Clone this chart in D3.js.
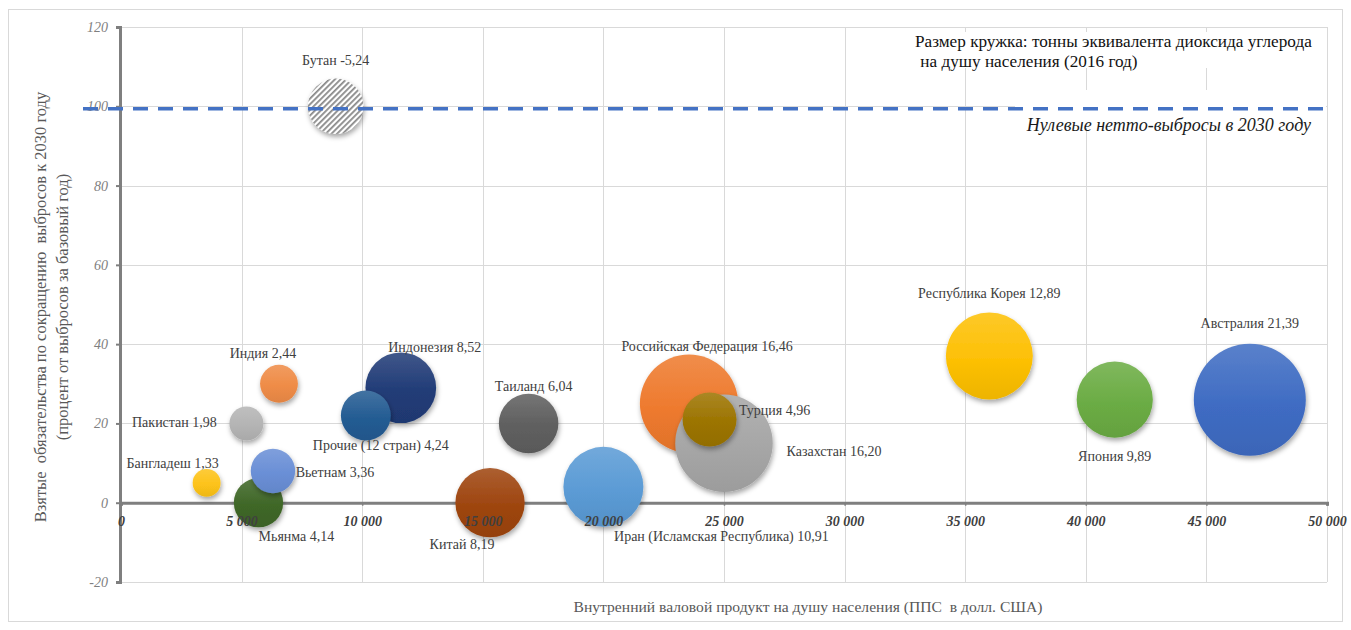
<!DOCTYPE html>
<html lang="ru">
<head>
<meta charset="utf-8">
<script src="https://cdn.jsdelivr.net/npm/d3@7"></script>
<style>
  html, body { margin: 0; padding: 0; background: #ffffff; }
  svg { display: block; font-family: "Liberation Serif", "Times New Roman", serif; }
  text { white-space: pre; }
</style>
</head>
<body>
<svg id="chart" width="1351" height="630"></svg>
<script>
// Countries, GDP per capita (PPP, USD), 2030 reduction pledge (% of base year),
// per-capita CO2-equivalent emissions in 2016 (bubble size). Listed in drawing order.
const countries = [
  "Бутан", "Индия", "Пакистан", "Индонезия", "Прочие (12 стран)", "Бангладеш",
  "Мьянма", "Вьетнам", "Китай", "Иран (Исламская Республика)", "Таиланд",
  "Российская Федерация", "Казахстан", "Турция", "Республика Корея", "Япония", "Австралия"
];
const gdpPerCapita = [8900, 6550, 5200, 11600, 10150, 3550, 5700, 6300, 15300, 20000, 16900, 23550, 25000, 24400, 36000, 41200, 46800];
const pledge       = [100, 30, 20, 29, 22, 5, 0, 8, 0, 4, 20, 25, 15, 21, 37, 26, 26];
const emissions    = [-5.24, 2.44, 1.98, 8.52, 4.24, 1.33, 4.14, 3.36, 8.19, 10.91, 6.04, 16.46, 16.20, 4.96, 12.89, 9.89, 21.39];

// Net-zero reference level
const netZeroLevel = 99.4;

// Tick values
const xTicks = [0, 5000, 10000, 15000, 20000, 25000, 30000, 35000, 40000, 45000, 50000];
const yTicks = [-20, 0, 20, 40, 60, 80, 100, 120];

// Bubble fill colours (null = hatched)
const bubbleColors = [
  null, "#EF8C47", "#B4B4B4", "#213C77", "#245C93", "#FDC31A",
  "#3F6727", "#6A8FD6", "#9E450F", "#5B9BD5", "#5F5F5F",
  "#EE7A2E", "#A6A6A6", "#9C7400", "#FDC005", "#6BAC44", "#3F6CC3"
];

// Data-label offsets from bubble centre [dx, dy]
const labelOffsets = [
  [0, -46], [-16, -30], [-72, -1], [34, -40], [15, 30], [-34, -19],
  [38, 34], [62, 1], [-28, 42], [118, 50], [5, -37],
  [18, -57], [110, 8], [65, -9], [0, -63], [0, 57], [0, -76]
];

const svg = d3.select("#chart");

const x = d3.scaleLinear().domain([0, 50000]).range([121, 1327]);
const y = d3.scaleLinear().domain([-20, 120]).range([582, 27]);
const r = d3.scaleSqrt().domain([0, 21.39]).range([0, 56]);

const fmtTick = d => d3.format(",")(d).replace(/,/g, " ");
const fmtVal = v => v.toFixed(2).replace(".", ",");

const defs = svg.append("defs");

// soft drop shadow under bubbles
const shadow = defs.append("filter").attr("id", "shadow")
  .attr("x", "-30%").attr("y", "-30%").attr("width", "160%").attr("height", "170%");
shadow.append("feDropShadow")
  .attr("dx", 1).attr("dy", 3).attr("stdDeviation", 2.5)
  .attr("flood-color", "#000").attr("flood-opacity", 0.35);

// diagonal hatching for negative-emission bubble
const hatch = defs.append("pattern").attr("id", "hatch")
  .attr("patternUnits", "userSpaceOnUse").attr("width", 4).attr("height", 4)
  .attr("patternTransform", "rotate(45)");
hatch.append("rect").attr("width", 4).attr("height", 4).attr("fill", "#ffffff");
hatch.append("rect").attr("width", 1.8).attr("height", 4).attr("fill", "#8a8a8a");

// vertical gradients for bubbles
bubbleColors.forEach((c, i) => {
  if (!c) return;
  const g = defs.append("linearGradient").attr("id", "grad" + i)
    .attr("x1", 0).attr("y1", 0).attr("x2", 0).attr("y2", 1);
  g.append("stop").attr("offset", "0%").attr("stop-color", d3.interpolateRgb(c, "#ffffff")(0.14));
  g.append("stop").attr("offset", "55%").attr("stop-color", c);
  g.append("stop").attr("offset", "100%").attr("stop-color", d3.color(c).darker(0.18));
});

// outer frame
svg.append("rect")
  .attr("x", 8.5).attr("y", 9.5).attr("width", 1334).attr("height", 612)
  .attr("fill", "#ffffff").attr("stroke", "#d9d9d9").attr("stroke-width", 1);

// gridlines
const grid = svg.append("g").attr("stroke", "#d9d9d9").attr("stroke-width", 1);
grid.selectAll(".hg").data(yTicks).join("line")
  .attr("x1", x(0)).attr("x2", x(50000))
  .attr("y1", d => Math.round(y(d)) + 0.5).attr("y2", d => Math.round(y(d)) + 0.5);
grid.selectAll(".vg").data(xTicks.filter(d => d > 0)).join("line")
  .attr("y1", y(120)).attr("y2", y(-20))
  .attr("x1", d => Math.round(x(d)) + 0.5).attr("x2", d => Math.round(x(d)) + 0.5);

// y axis
const yAxis = svg.append("g").attr("transform", `translate(${x(0) - 1},0)`)
  .call(d3.axisLeft(y).tickValues(yTicks).tickSize(4).tickPadding(8).tickFormat(d => d));
yAxis.select(".domain").attr("stroke", "#7f7f7f").attr("stroke-width", 3);
yAxis.selectAll(".tick line").attr("stroke", "#7f7f7f").attr("stroke-width", 2);
yAxis.selectAll(".tick text")
  .attr("font-family", "'Liberation Serif', 'Times New Roman', serif")
  .attr("font-size", 14).attr("font-style", "italic").attr("fill", "#7f7f7f");

// x axis line at zero (labels are drawn later, above the bubbles)
const xAxis = svg.append("g").attr("transform", `translate(0,${y(0)})`)
  .call(d3.axisBottom(x).tickValues(xTicks).tickSize(3).tickFormat(""));
xAxis.select(".domain").attr("stroke", "#7f7f7f").attr("stroke-width", 3);
xAxis.selectAll(".tick line").attr("stroke", "#7f7f7f").attr("stroke-width", 1.5);

// legend box (white backing hides gridlines)
svg.append("rect").attr("x", 905).attr("y", 32).attr("width", 421).attr("height", 36).attr("fill", "#ffffff");
const legend = svg.append("text")
  .attr("font-size", 17.2).attr("fill", "#111111");
legend.append("tspan").attr("x", 915).attr("y", 47)
  .text("Размер кружка: тонны эквивалента диоксида углерода");
legend.append("tspan").attr("x", 916).attr("y", 67)
  .text(" на душу населения (2016 год)");

// net-zero label box
svg.append("rect").attr("x", 1015).attr("y", 90).attr("width", 311).attr("height", 38).attr("fill", "#ffffff");
svg.append("text")
  .attr("x", 1311).attr("y", 131).attr("text-anchor", "end")
  .attr("font-size", 18).attr("font-style", "italic").attr("fill", "#1a1a1a")
  .text("Нулевые нетто-выбросы в 2030 году");

// bubbles
const data = countries.map((name, i) => ({
  name, gdp: gdpPerCapita[i], pledge: pledge[i], em: emissions[i],
  color: bubbleColors[i], off: labelOffsets[i], i
}));

svg.append("g").selectAll("circle").data(data).join("circle")
  .attr("cx", d => x(d.gdp))
  .attr("cy", d => y(d.pledge))
  .attr("r", d => r(Math.abs(d.em)))
  .attr("fill", d => d.color ? `url(#grad${d.i})` : "url(#hatch)")
  .attr("filter", "url(#shadow)");

// x tick labels on top of the bubbles
const xLabels = svg.append("g").attr("transform", `translate(0,${y(0)})`)
  .call(d3.axisBottom(x).tickValues(xTicks).tickSize(0).tickPadding(13).tickFormat(fmtTick));
xLabels.select(".domain").remove();
xLabels.selectAll(".tick text")
  .attr("font-family", "'Liberation Serif', 'Times New Roman', serif")
  .attr("font-size", 14).attr("font-style", "italic").attr("font-weight", "bold")
  .attr("fill", "#404040");

// net-zero dashed line
svg.append("line")
  .attr("x1", 83).attr("x2", x(50000))
  .attr("y1", y(netZeroLevel)).attr("y2", y(netZeroLevel))
  .attr("stroke", "#4472C4").attr("stroke-width", 3.5)
  .attr("stroke-dasharray", "15 10");

// data labels
svg.append("g").selectAll("text").data(data).join("text")
  .attr("x", d => x(d.gdp) + d.off[0])
  .attr("y", d => y(d.pledge) + d.off[1])
  .attr("text-anchor", "middle").attr("dominant-baseline", "central")
  .attr("font-size", 14).attr("fill", "#404040")
  .text(d => `${d.name} ${fmtVal(d.em)}`);

// axis titles
const yTitle = svg.append("text")
  .attr("transform", "translate(40,307) rotate(-90)")
  .attr("text-anchor", "middle").attr("font-size", 16.5).attr("fill", "#595959");
yTitle.append("tspan").attr("x", 0).attr("dy", "0.35em")
  .text("Взятые  обязательства по сокращению  выбросов к 2030 году");
yTitle.append("tspan").attr("x", 0).attr("dy", "1.33em")
  .text("(процент от выбросов за базовый год)");

svg.append("text")
  .attr("x", 808).attr("y", 612).attr("text-anchor", "middle")
  .attr("font-size", 15.6).attr("fill", "#595959")
  .text("Внутренний валовой продукт на душу населения (ППС  в долл. США)");
</script>
</body>
</html>
